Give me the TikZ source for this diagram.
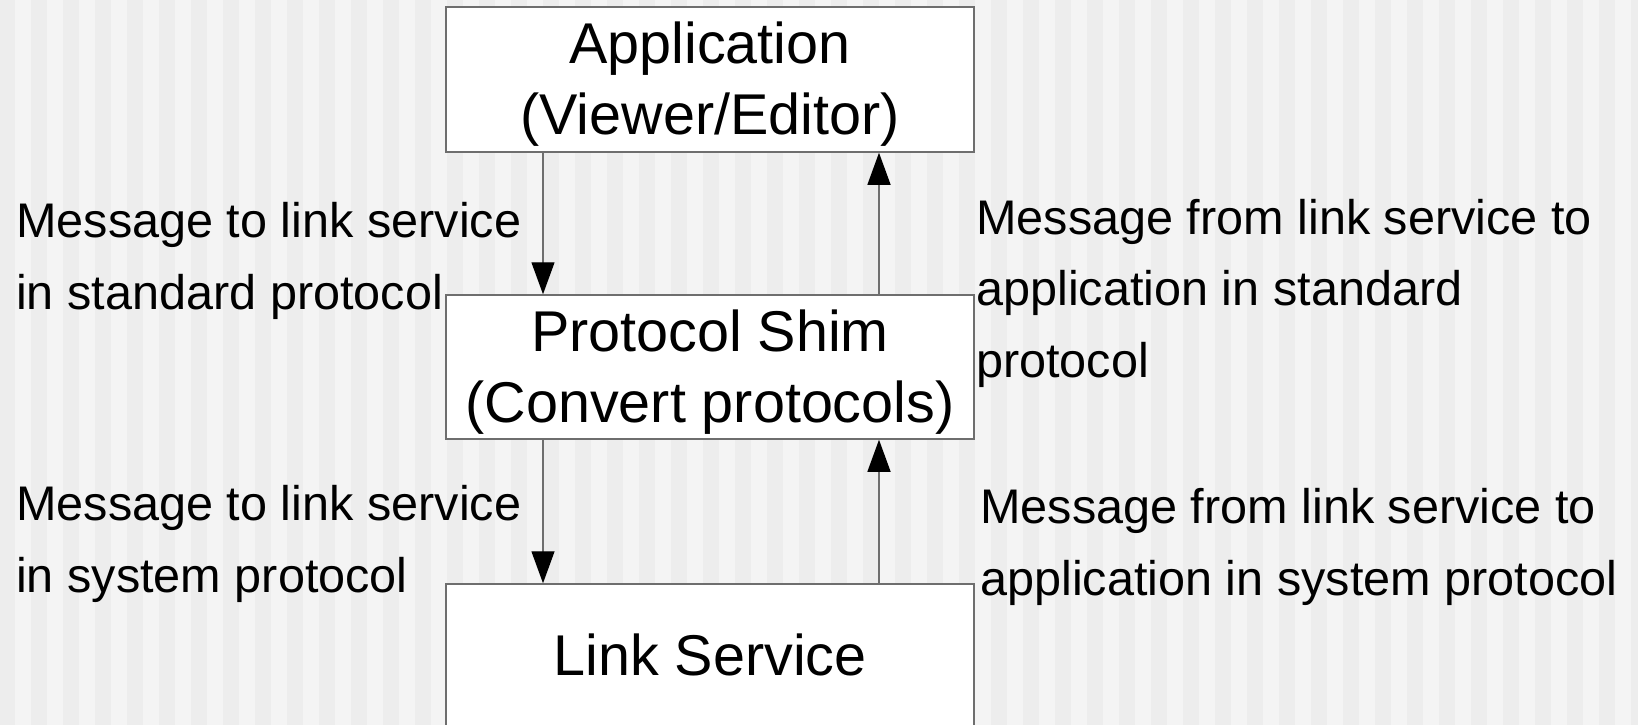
\documentclass[tikz,border=0pt]{standalone}
\usepackage{fontspec}
\setmainfont{Liberation Sans}
\usetikzlibrary{arrows.meta}
\definecolor{stripedark}{HTML}{EDEDED}
\definecolor{stripelight}{HTML}{F4F4F4}
\definecolor{edgegray}{HTML}{6E6E6E}
\begin{document}
\begin{tikzpicture}[x=1pt,y=-1pt,
  layerbox/.style={draw=edgegray, line width=1.5pt, fill=white,
    minimum width=528pt, inner sep=0pt},
  boxtext/.style={font=\fontsize{57.5}{71}\selectfont, inner sep=0pt,
    align=center, anchor=base},
  note/.style={font=\fontsize{48.6}{71.5}\selectfont, inner sep=0pt,
    align=left, anchor=base west},
  flow/.style={draw=edgegray, line width=1.3pt,
    -{Triangle[width=23pt,length=32pt,color=black]}}]
  \useasboundingbox (0,0) rectangle (1638,725);
  \clip (0,0) rectangle (1638,725);
  % striped backdrop
  \fill[stripedark] (0,0) rectangle (1638,725);
  \foreach \k in {0,...,50}
    \fill[stripelight] ({15+32*\k},0) rectangle ({31+32*\k},725);

  % layers
  \node[layerbox, minimum height=145pt] (app)  at (710,79.5) {};
  \node[layerbox, minimum height=144pt] (shim) at (710,367) {};
  \node[layerbox, minimum height=176pt] (link) at (710,672) {};

  % box captions, placed by the baseline of their last line
  \node[boxtext] (apptext)  at (710,134)  {Application\\(Viewer/Editor)};
  \node[boxtext] (shimtext) at (710,422) {Protocol Shim\\(Convert protocols)};
  \node[boxtext] (linktext) at (710,675) {Link Service};

  % connector columns
  \coordinate (down) at (543,0);
  \coordinate (up)   at (879,0);

  \draw[flow] (app.south -| down) -- (shim.north -| down);
  \draw[flow] (shim.north -| up) -- (app.south -| up);
  \draw[flow] (shim.south -| down) -- (link.north -| down);
  \draw[flow] (link.north -| up) -- (shim.south -| up);

  % message labels, placed by the baseline of their last line
  \node[note] (toapp)   at (16,309)  {Message to link service\\in standard protocol};
  \node[note] (fromapp) at (976,377) {Message from link service to\\application in standard\\protocol};
  \node[note] (tosys)   at (16,592)  {Message to link service\\in system protocol};
  \node[note] (fromsys) at (980,595) {Message from link service to\\application in system protocol};
\end{tikzpicture}
\end{document}
